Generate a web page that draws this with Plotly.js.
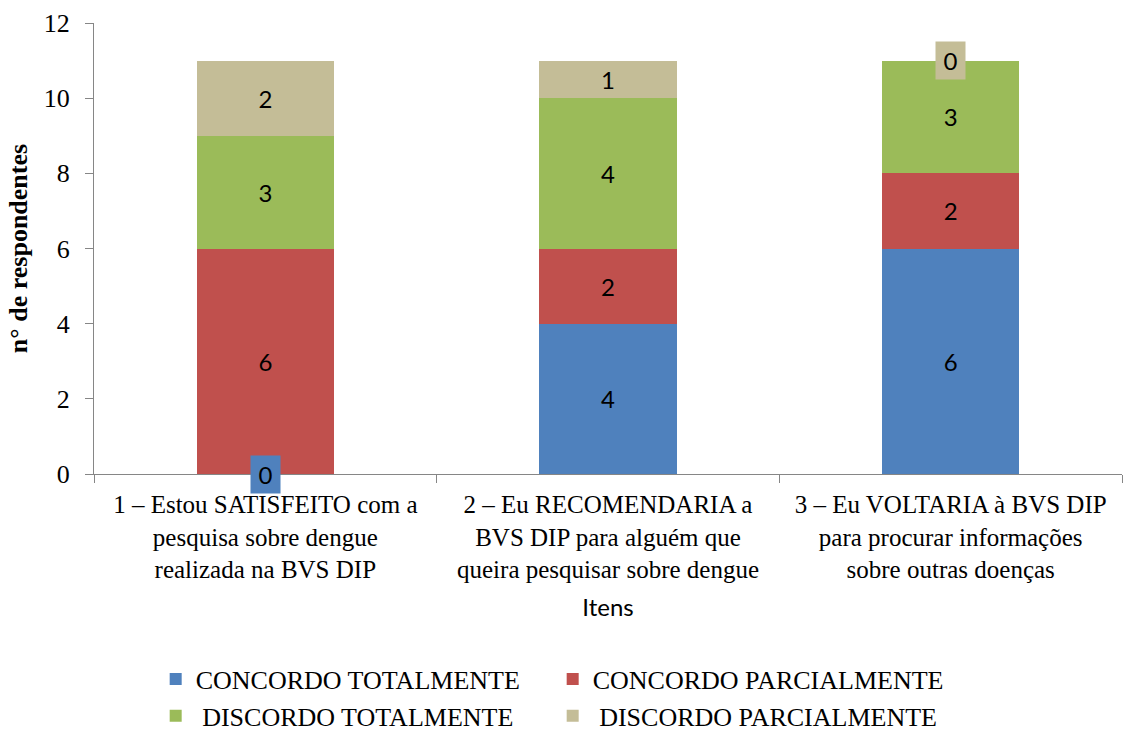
<!DOCTYPE html>
<html>
<head>
<meta charset="utf-8">
<script src="https://cdn.plot.ly/plotly-3.0.1.min.js"></script>
<style>
  html, body { margin: 0; padding: 0; background: #fff; }
  #chart { width: 1123px; height: 735px; }
</style>
</head>
<body>
<div id="chart"></div>
<script>
// Survey items (x categories), with line breaks for the tick labels
const categories = [
  "1 – Estou SATISFEITO com a<br>pesquisa sobre dengue<br>realizada na BVS DIP",
  "2 – Eu RECOMENDARIA a<br>BVS DIP para alguém que<br>queira pesquisar sobre dengue",
  "3 – Eu VOLTARIA à BVS DIP<br>para procurar informações<br>sobre outras doenças"
];

// Answer options, stacked bottom to top
const seriesNames = [
  "CONCORDO TOTALMENTE",
  "CONCORDO PARCIALMENTE",
  "\u00a0DISCORDO TOTALMENTE",
  "\u00a0DISCORDO PARCIALMENTE"
];

// Number of respondents per option and item
const concordoTotalmente   = [0, 4, 6];
const concordoParcialmente = [6, 2, 2];
const discordoTotalmente   = [3, 4, 3];
const discordoParcialmente = [2, 1, 0];

const seriesValues = [concordoTotalmente, concordoParcialmente, discordoTotalmente, discordoParcialmente];
const seriesColors = ["#4F81BD", "#C0504D", "#9BBB59", "#C4BD97"];

const labelFont = { family: "Lato, 'Open Sans', sans-serif", size: 24, color: "#000000" };
const serif = "'Liberation Serif', 'Times New Roman', serif";

const traces = seriesValues.map((vals, i) => ({
  type: "bar",
  name: seriesNames[i],
  x: categories,
  y: vals,
  marker: { color: seriesColors[i] },
  text: vals.map(v => (v === 0 ? "" : String(v))),
  textposition: "inside",
  insidetextanchor: "middle",
  textangle: 0,
  constraintext: "none",
  textfont: labelFont,
  hoverinfo: "skip"
}));

// Zero-height segments still get their value label, boxed in the series colour
const annotations = [];
categories.forEach((cat, c) => {
  let base = 0;
  seriesValues.forEach((vals, i) => {
    if (vals[c] === 0) {
      annotations.push({
        x: cat, y: base, xref: "x", yref: "y",
        text: "0", showarrow: false,
        font: labelFont,
        bgcolor: seriesColors[i],
        width: 21, borderpad: 4
      });
    }
    base += vals[c];
  });
});

const layout = {
  width: 1123,
  height: 735,
  margin: { l: 94, r: 1, t: 23, b: 261 },
  paper_bgcolor: "#ffffff",
  plot_bgcolor: "#ffffff",
  barmode: "stack",
  bargap: 0.6,
  showlegend: true,
  xaxis: {
    type: "category",
    range: [-0.5, 2.5],
    showline: true, linecolor: "#868686", linewidth: 1,
    ticks: "outside", tickson: "boundaries", ticklen: 8, tickcolor: "#868686",
    tickfont: { family: serif, size: 25, color: "#000000" },
    ticklabelstandoff: 8,
    showgrid: false, zeroline: false,
    title: { text: "Itens", font: { family: "Lato, 'Open Sans', sans-serif", size: 24, color: "#000000" }, standoff: 17 },
    automargin: false
  },
  yaxis: {
    range: [0, 12],
    dtick: 2,
    showline: true, linecolor: "#868686", linewidth: 1,
    ticks: "outside", ticklen: 8, tickcolor: "#868686",
    tickfont: { family: serif, size: 26, color: "#000000" },
    ticklabelstandoff: 10,
    showgrid: false, zeroline: false,
    title: { text: "<b>n° de respondentes</b>", font: { family: serif, size: 26, color: "#000000" }, standoff: 8 },
    automargin: false
  },
  legend: {
    orientation: "h",
    x: 0.06, xanchor: "left",
    yref: "container",
    y: 0.108, yanchor: "top",
    entrywidth: 352, entrywidthmode: "pixels",
    traceorder: "normal",
    font: { family: serif, size: 26, color: "#000000" },
    bgcolor: "rgba(0,0,0,0)"
  },
  annotations: annotations
};

Plotly.newPlot("chart", traces, layout, { displayModeBar: false, staticPlot: true });
</script>
</body>
</html>
